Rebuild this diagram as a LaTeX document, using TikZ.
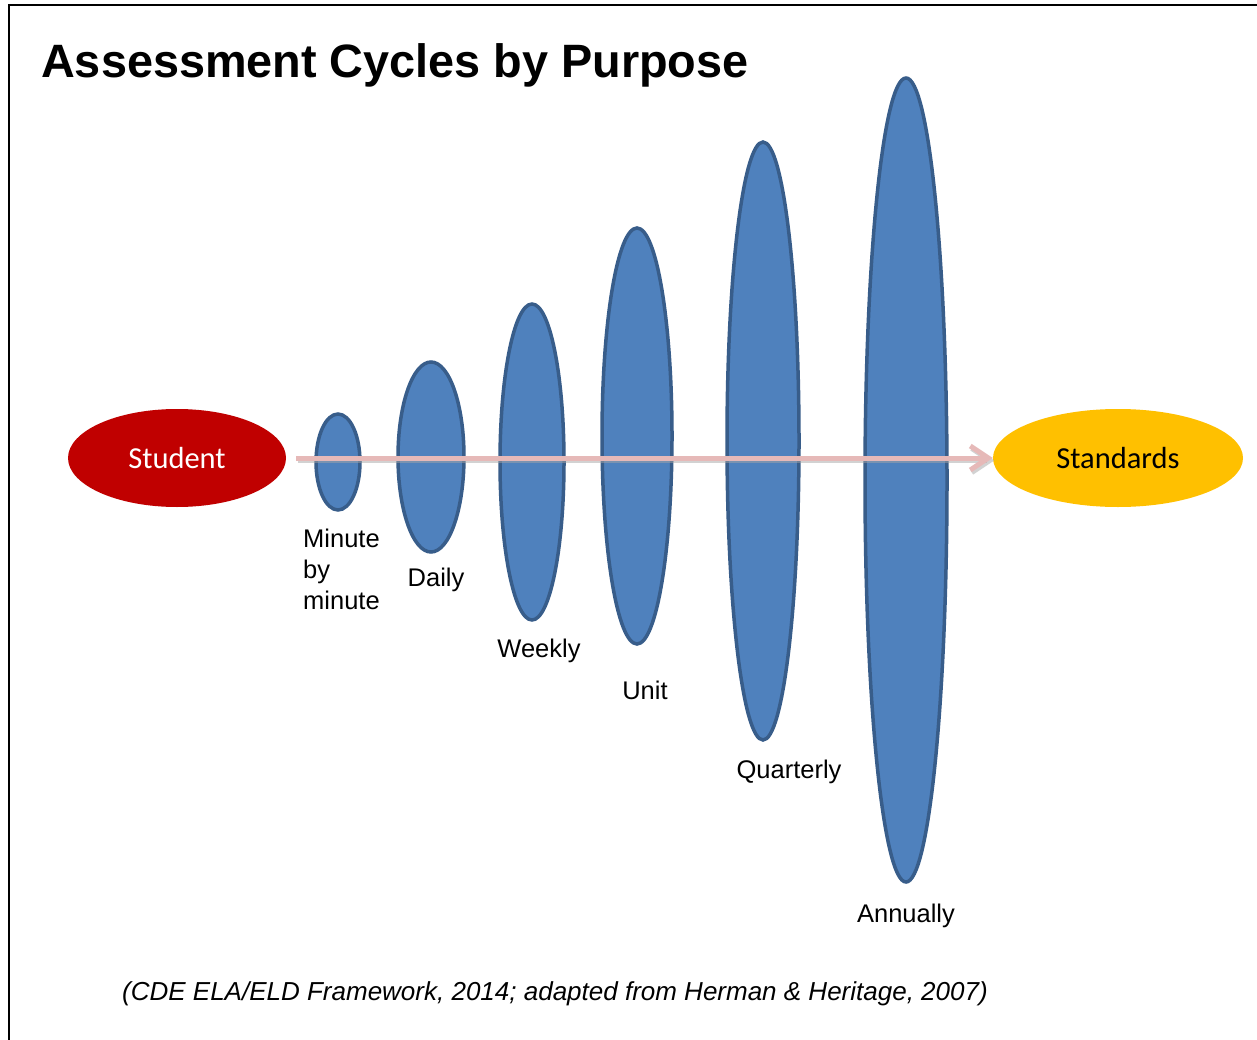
\documentclass[tikz,border=0pt]{standalone}
\usepackage{fontspec}
\setmainfont{Liberation Sans}
\newfontfamily\calib{Carlito}
\usetikzlibrary{shapes.geometric,arrows.meta}
\definecolor{cyblue}{HTML}{4F81BD}
\definecolor{cyedge}{HTML}{385D8A}
\definecolor{cyred}{HTML}{C00000}
\definecolor{cyyellow}{HTML}{FFC000}
\definecolor{cypink}{HTML}{E6B9B8}
\tikzset{
  cycle/.style={ellipse, draw=cyedge, fill=cyblue, line width=3.5pt, inner sep=0pt},
  endpoint/.style={ellipse, inner sep=0pt, font=\calib\fontsize{30.5}{36}\selectfont},
  lbl/.style={inner sep=0pt, font=\fontsize{25.5}{31}\selectfont},
}
\begin{document}
\begin{tikzpicture}[x=1pt,y=-1pt]
\useasboundingbox (0,0) rectangle (1257,1040);
\fill[white] (0,0) rectangle (1257,1040);
\draw[line width=2pt] (9,1040) -- (9,5) -- (1257,5);

\node[anchor=west, inner sep=0pt, font=\bfseries\fontsize{46.8}{56}\selectfont] (title) at (41,65) {Assessment Cycles by Purpose};

\node[endpoint, fill=cyred, text=white, minimum width=218pt, minimum height=98pt] (student) at (177,458) {Student};
\node[endpoint, fill=cyyellow, text=black, minimum width=250pt, minimum height=98pt] (standards) at (1118,458) {Standards};

\node[cycle, minimum width=44pt, minimum height=96pt] (c1) at (338,462) {};
\node[cycle, minimum width=66pt, minimum height=190pt] (c2) at (431,457) {};
\node[cycle, minimum width=64pt, minimum height=316pt] (c3) at (532,462) {};
\node[cycle, minimum width=70pt, minimum height=416pt] (c4) at (637,436) {};
\node[cycle, minimum width=72pt, minimum height=598pt] (c5) at (763,441) {};
\node[cycle, minimum width=82pt, minimum height=804pt] (c6) at (906,480) {};

\draw[black!35, opacity=0.5, line width=5pt, shorten <=10pt,
  -{Straight Barb[length=18pt,width=24pt,line width=5pt]}]
  ([shift={(1.5,2.5)}]student.east) -- ([shift={(1.5,2.5)}]standards.west);
\draw[cypink, line width=5pt, shorten <=10pt,
  -{Straight Barb[length=18pt,width=24pt,line width=5pt]}]
  (student.east) -- (standards.west);

\node[lbl, anchor=west, align=left] (l1) at (303,569) {Minute\\by\\minute};
\node[lbl] (l2) at (436,580) {Daily};
\node[lbl] (l3) at (539,651) {Weekly};
\node[lbl] (l4) at (645,690) {Unit};
\node[lbl] (l5) at (789,772) {Quarterly};
\node[lbl] (l6) at (906,916) {Annually};

\node[inner sep=0pt, font=\itshape\fontsize{26}{30}\selectfont] (cite) at (555,994) {(CDE ELA/ELD Framework, 2014; adapted from Herman \& Heritage, 2007)};
\end{tikzpicture}
\end{document}
